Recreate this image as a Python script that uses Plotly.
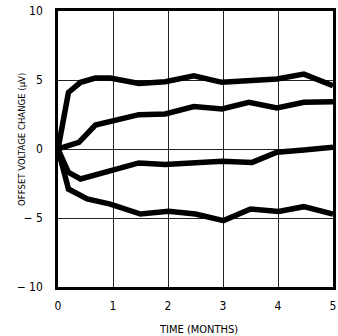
import plotly.graph_objects as go

x1 = [0, 0.19, 0.41, 0.68, 0.95, 1.47, 1.95, 2.47, 2.98, 3.47, 3.98, 4.47, 5.0]
y1 = [0, 4.1, 4.83, 5.14, 5.14, 4.75, 4.88, 5.31, 4.83, 4.95, 5.07, 5.43, 4.59]

x2 = [0, 0.38, 0.68, 1.01, 1.47, 1.95, 2.47, 2.98, 3.47, 3.98, 4.47, 5.0]
y2 = [0, 0.48, 1.74, 2.05, 2.49, 2.54, 3.07, 2.90, 3.38, 2.97, 3.38, 3.43]

x3 = [0, 0.19, 0.41, 0.95, 1.47, 1.95, 2.47, 2.98, 3.53, 3.98, 4.47, 5.0]
y3 = [0, -1.69, -2.17, -1.57, -1.01, -1.13, -1.04, -0.89, -0.97, -0.24, -0.07, 0.12]

x4 = [0, 0.19, 0.53, 0.95, 1.5, 2.01, 2.5, 3.01, 3.5, 4.01, 4.47, 5.0]
y4 = [0, -2.9, -3.62, -3.99, -4.71, -4.52, -4.71, -5.19, -4.35, -4.52, -4.18, -4.71]

xticks = [0, 1, 2, 3, 4, 5]
yticks = [-10, -5, 0, 5, 10]
ytext = ["− 10", "− 5", "0", "5", "10"]

font = "DejaVu Sans Condensed, DejaVu Sans, Liberation Sans"

fig = go.Figure()
for xs, ys in [(x1, y1), (x2, y2), (x3, y3), (x4, y4)]:
    fig.add_trace(go.Scatter(x=xs, y=ys, mode="lines",
                             line=dict(color="black", width=5.5),
                             showlegend=False, cliponaxis=True))

fig.update_layout(
    width=338, height=336,
    margin=dict(l=58, r=5, t=11, b=49, autoexpand=False),
    paper_bgcolor="white", plot_bgcolor="white",
    font=dict(family=font, size=12, color="black"),
)
fig.update_xaxes(
    range=[0, 5], tickvals=xticks, ticktext=[str(v) for v in xticks],
    showgrid=True, gridcolor="#222", gridwidth=1,
    showline=True, linecolor="black", linewidth=2.5, mirror=True,
    ticks="", ticklabelstandoff=6, zeroline=False,
)
fig.update_yaxes(
    range=[-10, 10], tickvals=yticks, ticktext=ytext,
    showgrid=True, gridcolor="#222", gridwidth=1,
    showline=True, linecolor="black", linewidth=2.5, mirror=True,
    ticks="", ticklabelstandoff=10, zeroline=False,
)
fig.add_annotation(
    text="TIME (MONTHS)",
    xref="paper", yref="paper", x=0.51, y=-0.155,
    xanchor="center", yanchor="middle", showarrow=False,
    font=dict(size=11),
)
fig.add_annotation(
    text="OFFSET VOLTAGE CHANGE (μV)", textangle=-90,
    xref="paper", yref="paper", x=-0.135, y=0.536,
    xanchor="center", yanchor="middle", showarrow=False,
    font=dict(size=9.5),
)

fig.write_html("out.html")
